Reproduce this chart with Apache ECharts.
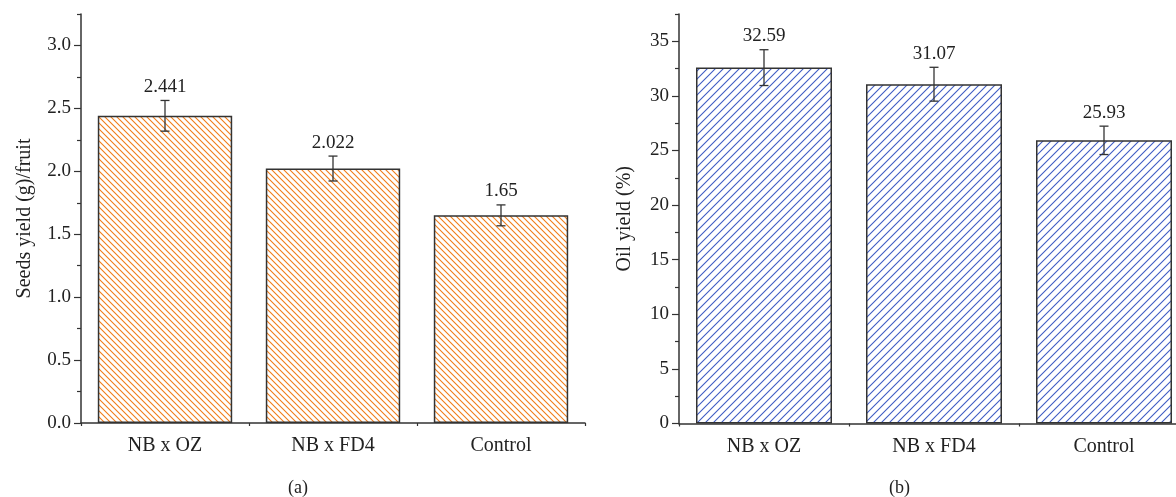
<!DOCTYPE html>
<html>
<head>
<meta charset="utf-8">
<script src="https://cdn.jsdelivr.net/npm/echarts@6/dist/echarts.min.js"></script>
<style>
html,body{margin:0;padding:0;background:#fff;}
#c{width:1176px;height:497px;}
</style>
</head>
<body>
<div id="c"></div>
<script>
// ---- data ----
var categories = ['NB x OZ', 'NB x FD4', 'Control'];
var seedsYield = [2.441, 2.022, 1.65];
var seedsErr = [0.122, 0.099, 0.083];
var seedsLabels = ['2.441', '2.022', '1.65'];
var oilYield = [32.59, 31.07, 25.93];
var oilErr = [1.64, 1.55, 1.3];
var oilLabels = ['32.59', '31.07', '25.93'];
var seedsMajorTicks = [0, 0.5, 1.0, 1.5, 2.0, 2.5, 3.0];
var seedsMinorTicks = [0.25, 0.75, 1.25, 1.75, 2.25, 2.75, 3.25];
var oilMajorTicks = [0, 5, 10, 15, 20, 25, 30, 35];
var oilMinorTicks = [2.5, 7.5, 12.5, 17.5, 22.5, 27.5, 32.5, 37.5];
var seedsMax = 3.25;
var oilMax = 37.5;
var yNames = ['Seeds yield (g)/fruit', 'Oil yield (%)'];
var captions = ['(a)', '(b)'];

var FONT = '"Liberation Serif", "DejaVu Serif", serif';
var DARK = '#333333';

function hatch(spacing, color, dir) {
  var c = document.createElement('canvas');
  c.width = spacing; c.height = spacing;
  var ctx = c.getContext('2d');
  ctx.strokeStyle = color;
  ctx.lineWidth = 1.1;
  ctx.beginPath();
  var s = spacing;
  if (dir === 'back') {
    ctx.moveTo(-1, -1); ctx.lineTo(s + 1, s + 1);
    ctx.moveTo(s - 1, -1); ctx.lineTo(s + 1, 1);
    ctx.moveTo(-1, s - 1); ctx.lineTo(1, s + 1);
  } else {
    ctx.moveTo(-1, s + 1); ctx.lineTo(s + 1, -1);
    ctx.moveTo(-1, 1); ctx.lineTo(1, -1);
    ctx.moveTo(s - 1, s + 1); ctx.lineTo(s + 1, s - 1);
  }
  ctx.stroke();
  return c;
}

var orangePat = { image: hatch(6, '#f07d1a', 'back'), repeat: 'repeat' };
var bluePat = { image: hatch(8, '#3f5cc4', 'fwd'), repeat: 'repeat' };

function xAxes(gridIndex) {
  return [{
    type: 'category', gridIndex: gridIndex, data: categories,
    axisLine: { lineStyle: { color: DARK, width: 1.5 } },
    axisTick: { alignWithLabel: true, length: 7, lineStyle: { color: DARK, width: 1.2 } },
    axisLabel: { color: '#222', fontFamily: FONT, fontSize: 20, margin: 13 },
    splitLine: { show: false }
  }, {
    type: 'category', gridIndex: gridIndex, data: categories, position: 'bottom',
    axisLine: { show: false },
    axisTick: { show: true, length: 3, lineStyle: { color: DARK, width: 1.2 } },
    axisLabel: { show: false },
    splitLine: { show: false }
  }];
}

function yAxes(gridIndex, max, major, minor, name, gap, decimals) {
  return [{
    type: 'value', gridIndex: gridIndex, min: 0, max: max,
    name: name, nameLocation: 'middle', nameGap: gap,
    nameTextStyle: { color: '#222', fontFamily: FONT, fontSize: 20 },
    axisLine: { show: true, lineStyle: { color: DARK, width: 1.5 } },
    axisTick: { show: true, length: 7, customValues: major, lineStyle: { color: DARK, width: 1.2 } },
    axisLabel: { show: true, customValues: major, color: '#222', fontFamily: FONT, fontSize: 19, margin: 10,
      formatter: function (v) { return Number(v).toFixed(decimals); } },
    splitLine: { show: false }
  }, {
    type: 'value', gridIndex: gridIndex, min: 0, max: max, position: 'left',
    axisLine: { show: false },
    axisTick: { show: true, length: 4, customValues: minor, lineStyle: { color: DARK, width: 1.2 } },
    axisLabel: { show: false },
    splitLine: { show: false }
  }];
}

function errSeries(xi, yi, values, errs, labels) {
  var data = values.map(function (v, i) { return [i, v, errs[i]]; });
  return {
    type: 'custom', xAxisIndex: xi, yAxisIndex: yi, data: data, z: 10,
    renderItem: function (params, api) {
      var x = api.value(0), v = api.value(1), e = api.value(2);
      var top = api.coord([x, v + e]);
      var bot = api.coord([x, v - e]);
      var cap = 4.5;
      var style = { stroke: DARK, lineWidth: 1.3 };
      return {
        type: 'group',
        children: [
          { type: 'line', shape: { x1: top[0], y1: top[1], x2: bot[0], y2: bot[1] }, style: style },
          { type: 'line', shape: { x1: top[0] - cap, y1: top[1], x2: top[0] + cap, y2: top[1] }, style: style },
          { type: 'line', shape: { x1: bot[0] - cap, y1: bot[1], x2: bot[0] + cap, y2: bot[1] }, style: style },
          { type: 'text', x: top[0], y: top[1] - 4,
            style: { text: labels[params.dataIndex], fill: '#222', font: '19px ' + FONT, align: 'center', verticalAlign: 'bottom' } }
        ]
      };
    }
  };
}

var chart = echarts.init(document.getElementById('c'), null, { renderer: 'canvas' });
chart.setOption({
  animation: false,
  backgroundColor: '#fff',
  grid: [
    { left: 81, width: 504, top: 14, height: 409, containLabel: false, outerBoundsMode: 'none' },
    { left: 679, width: 510, top: 14, height: 409.5, containLabel: false, outerBoundsMode: 'none' }
  ],
  xAxis: xAxes(0).concat(xAxes(1)),
  yAxis: yAxes(0, seedsMax, seedsMajorTicks, seedsMinorTicks, yNames[0], 46, 1)
    .concat(yAxes(1, oilMax, oilMajorTicks, oilMinorTicks, yNames[1], 44, 0)),
  series: [
    { type: 'bar', xAxisIndex: 0, yAxisIndex: 0, data: seedsYield, barCategoryGap: '20%',
      itemStyle: { color: orangePat, borderColor: DARK, borderWidth: 1.5 } },
    { type: 'bar', xAxisIndex: 2, yAxisIndex: 2, data: oilYield, barCategoryGap: '20%',
      itemStyle: { color: bluePat, borderColor: DARK, borderWidth: 1.5 } },
    errSeries(0, 0, seedsYield, seedsErr, seedsLabels),
    errSeries(2, 2, oilYield, oilErr, oilLabels)
  ],
  graphic: [
    { type: 'text', left: 288, top: 479, style: { text: captions[0], fill: '#222', font: '18px ' + FONT } },
    { type: 'text', left: 889, top: 479, style: { text: captions[1], fill: '#222', font: '18px ' + FONT } }
  ]
});
</script>
</body>
</html>
